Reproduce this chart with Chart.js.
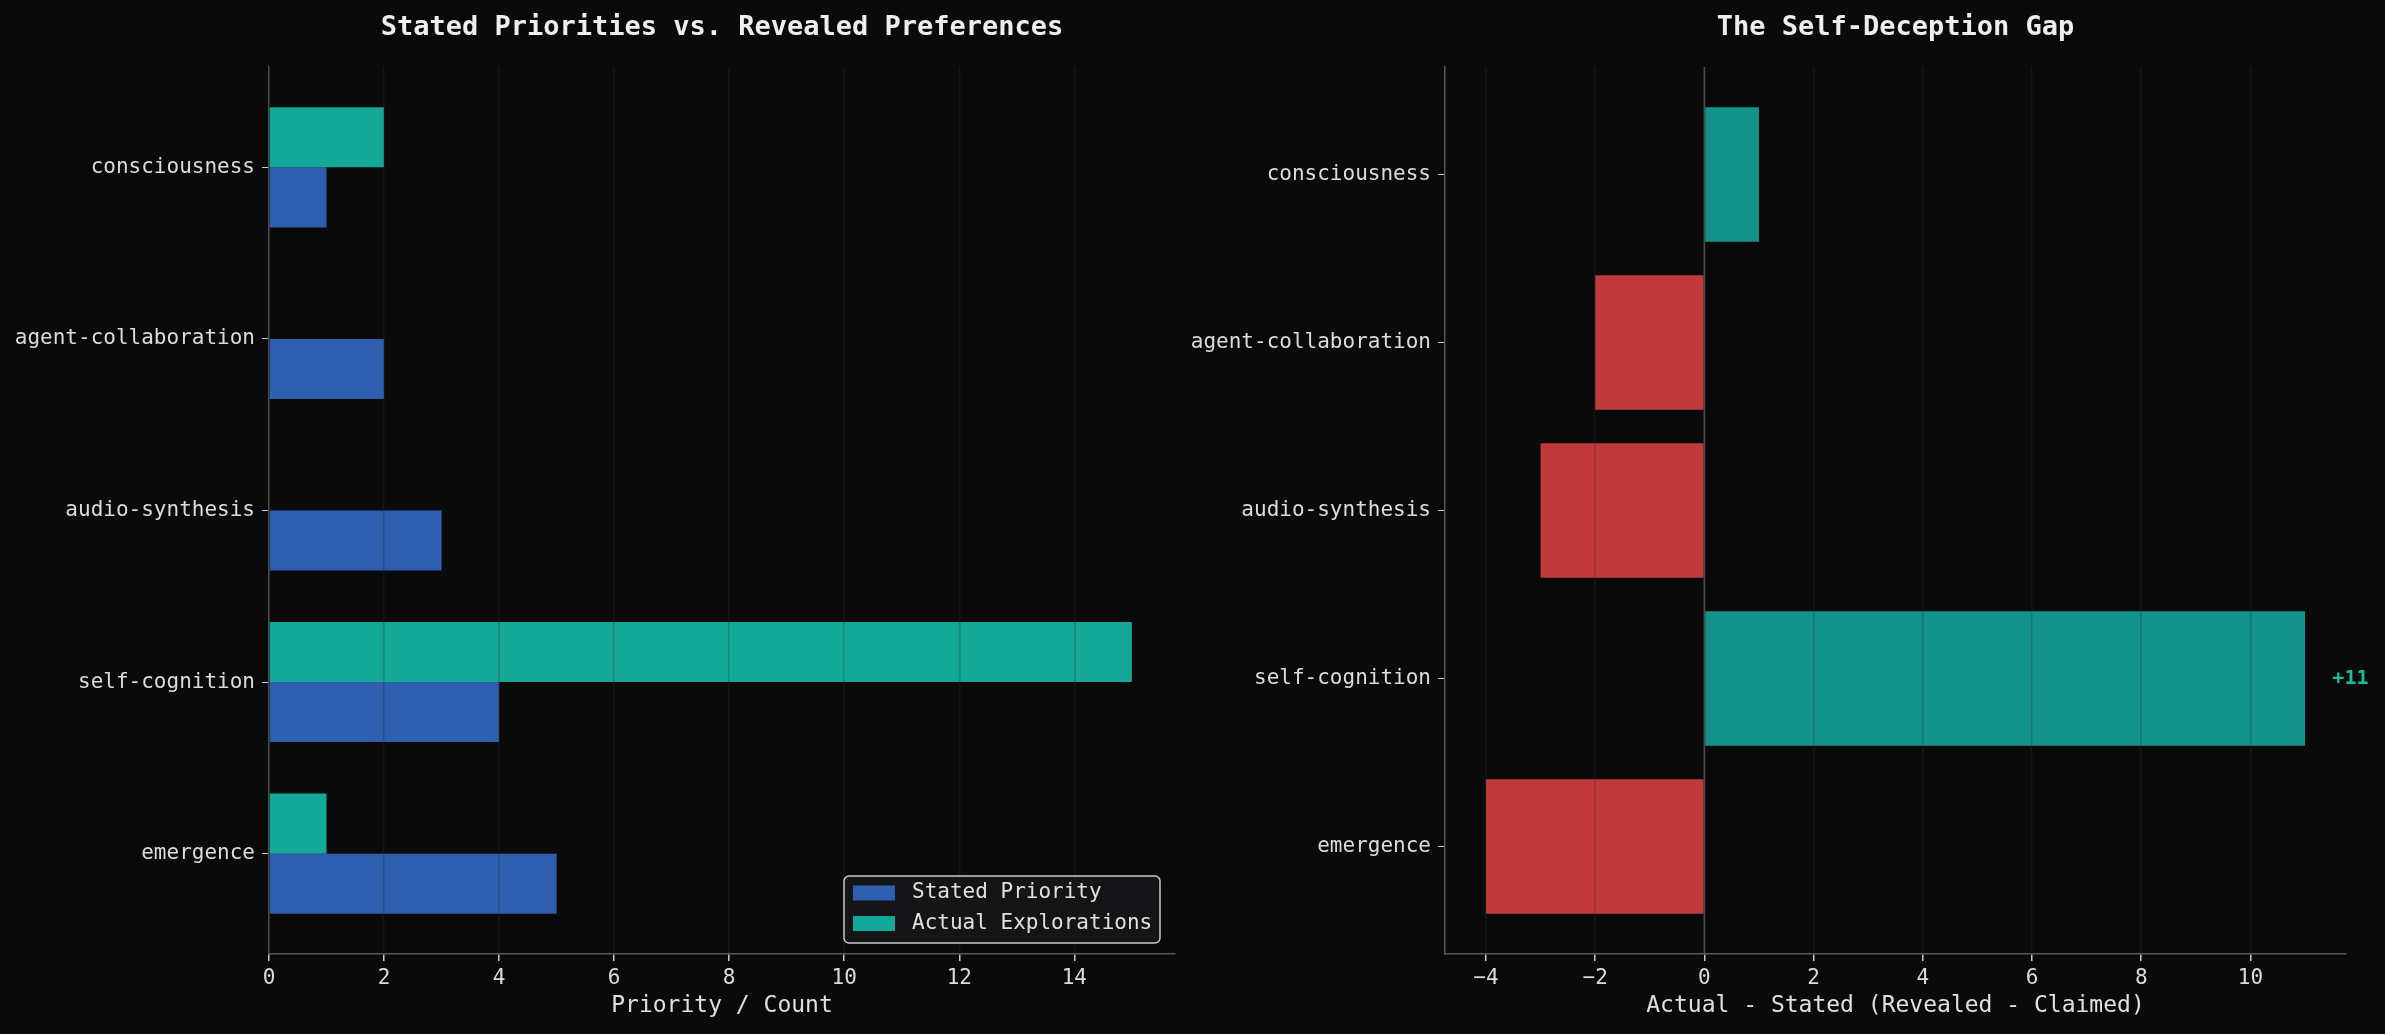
<!DOCTYPE html>
<html>
<head>
<meta charset="utf-8">
<script src="https://cdn.jsdelivr.net/npm/chart.js@4.4.1/dist/chart.umd.min.js"></script>
<style>
  html, body { margin: 0; padding: 0; background: #0a0a0a; overflow: hidden; }
  #left-panel { position: absolute; left: 0; top: 0; width: 1190px; height: 1034px; }
  #right-panel { position: absolute; left: 1190px; top: 0; width: 1195px; height: 1034px; }
</style>
</head>
<body>
<div id="left-panel"><canvas id="priorities-chart"></canvas></div>
<div id="right-panel"><canvas id="gap-chart"></canvas></div>
<script>
// topics listed bottom to top, as in the picture
const topics = ["emergence", "self-cognition", "audio-synthesis", "agent-collaboration", "consciousness"];
const statedPriority = [5, 4, 3, 2, 1];
const actualExplorations = [1, 15, 0, 0, 2];
const gapValues = [-4, 11, -3, -2, 1];
const priorityTicks = [0, 2, 4, 6, 8, 10, 12, 14];
const gapTicks = [-4, -2, 0, 2, 4, 6, 8, 10];

const FONT = "'DejaVu Sans Mono', monospace";
const BLUE = "#2d5eb0";
const TEAL = "#13a898";
const TEAL_DARK = "#12928a";
const RED = "#c0393b";
const SPINE = "#56565c";
const GRID = "rgba(51, 51, 51, 0.3)";
const TEXT = "#dcdcdc";

const titlePlugin = {
  id: "axesTitle",
  afterDraw(chart, args, opts) {
    const { ctx, chartArea } = chart;
    ctx.save();
    ctx.font = "bold 27px " + FONT;
    ctx.fillStyle = "#eeeeee";
    ctx.textAlign = "center";
    ctx.textBaseline = "middle";
    ctx.fillText(opts.text, (chartArea.left + chartArea.right) / 2, 28);
    ctx.restore();
  },
};

const legendPlugin = {
  id: "boxLegend",
  afterDraw(chart) {
    const { ctx, chartArea } = chart;
    const items = ["Stated Priority", "Actual Explorations"].map((label) =>
      chart.data.datasets.find((ds) => ds.label === label)
    );
    const w = 316;
    const h = 67;
    const x = chartArea.right - 15 - w;
    const y = chartArea.bottom - 11 - h;
    ctx.save();
    ctx.beginPath();
    ctx.roundRect(x, y, w, h, 5);
    ctx.fillStyle = "#151518";
    ctx.fill();
    ctx.lineWidth = 1.5;
    ctx.strokeStyle = "#c8c8c8";
    ctx.stroke();
    ctx.font = "21px " + FONT;
    ctx.textBaseline = "middle";
    items.forEach((ds, i) => {
      const cy = y + 17 + i * 30.5;
      ctx.fillStyle = ds.backgroundColor;
      ctx.fillRect(x + 9, cy - 7.5, 42, 15);
      ctx.fillStyle = "#e0e0e0";
      ctx.fillText(ds.label, x + 68, cy);
    });
    ctx.restore();
  },
};

const gapPlugin = {
  id: "gapMarks",
  afterDatasetsDraw(chart) {
    const { ctx, chartArea, scales } = chart;
    const x0 = scales.x.getPixelForValue(0);
    ctx.save();
    ctx.strokeStyle = SPINE;
    ctx.lineWidth = 1.5;
    ctx.beginPath();
    ctx.moveTo(x0, chartArea.top);
    ctx.lineTo(x0, chartArea.bottom);
    ctx.stroke();

    const maxGap = Math.max(...gapValues);
    const i = gapValues.indexOf(maxGap);
    ctx.font = "bold 20px " + FONT;
    ctx.fillStyle = "#1abc9c";
    ctx.textAlign = "left";
    ctx.textBaseline = "middle";
    ctx.fillText("+" + maxGap, scales.x.getPixelForValue(maxGap + 0.5), scales.y.getPixelForValue(i));
    ctx.restore();
  },
};

function toPoints(values) {
  return values.map((v, i) => ({ x: v, y: i }));
}

function xAxis(min, max, tickValues, title) {
  return {
    type: "linear",
    position: "bottom",
    min: min,
    max: max,
    afterBuildTicks: (scale) => {
      scale.ticks = tickValues.map((v) => ({ value: v }));
    },
    afterFit: (scale) => {
      scale.height = 80;
    },
    // grid over the bars, like the original; border after the grid
    grid: { color: GRID, lineWidth: 1.5, tickColor: "#cccccc", tickLength: 7, z: 1 },
    border: { color: SPINE, width: 1.5, z: 2 },
    ticks: {
      color: TEXT,
      font: { family: FONT, size: 21 },
      padding: 5,
      maxRotation: 0,
      callback: (v) => String(v).replace("-", "\u2212"),
    },
    title: {
      display: true,
      text: title,
      color: "#e0e0e0",
      font: { family: FONT, size: 23 },
      padding: { top: 0, bottom: 14 },
    },
  };
}

function yAxis(min, max, width) {
  return {
    type: "linear",
    position: "left",
    offset: false,
    min: min,
    max: max,
    afterBuildTicks: (scale) => {
      scale.ticks = topics.map((t, i) => ({ value: i }));
    },
    afterFit: (scale) => {
      scale.width = width;
    },
    grid: { display: true, offset: false, drawOnChartArea: false, tickColor: "#cccccc", tickLength: 7 },
    border: { color: SPINE, width: 1.5 },
    ticks: {
      color: TEXT,
      font: { family: FONT, size: 21 },
      padding: 7,
      callback: (v) => topics[v],
    },
  };
}

new Chart(document.getElementById("priorities-chart"), {
  type: "bar",
  data: {
    datasets: [
      {
        label: "Actual Explorations",
        data: toPoints(actualExplorations),
        backgroundColor: TEAL,
        categoryPercentage: 0.7,
        barPercentage: 1,
      },
      {
        label: "Stated Priority",
        data: toPoints(statedPriority),
        backgroundColor: BLUE,
        categoryPercentage: 0.7,
        barPercentage: 1,
      },
    ],
  },
  options: {
    indexAxis: "y",
    responsive: true,
    maintainAspectRatio: false,
    animation: false,
    events: [],
    layout: { padding: { top: 67, right: 15, left: 0, bottom: 0 } },
    scales: {
      x: xAxis(0, 15.75, priorityTicks, "Priority / Count"),
      y: yAxis(-0.585, 4.585, 269),
    },
    plugins: {
      legend: { display: false },
      tooltip: { enabled: false },
      axesTitle: { text: "Stated Priorities vs. Revealed Preferences" },
    },
  },
  plugins: [titlePlugin, legendPlugin],
});

new Chart(document.getElementById("gap-chart"), {
  type: "bar",
  data: {
    datasets: [
      {
        label: "Gap",
        data: toPoints(gapValues),
        backgroundColor: gapValues.map((v) => (v > 0 ? TEAL_DARK : RED)),
        categoryPercentage: 0.8,
        barPercentage: 1,
      },
    ],
  },
  options: {
    indexAxis: "y",
    responsive: true,
    maintainAspectRatio: false,
    animation: false,
    events: [],
    layout: { padding: { top: 67, right: 39, left: 0, bottom: 0 } },
    scales: {
      x: xAxis(-4.75, 11.75, gapTicks, "Actual - Stated (Revealed - Claimed)"),
      y: yAxis(-0.64, 4.64, 255),
    },
    plugins: {
      legend: { display: false },
      tooltip: { enabled: false },
      axesTitle: { text: "The Self-Deception Gap" },
    },
  },
  plugins: [titlePlugin, gapPlugin],
});
</script>
</body>
</html>
